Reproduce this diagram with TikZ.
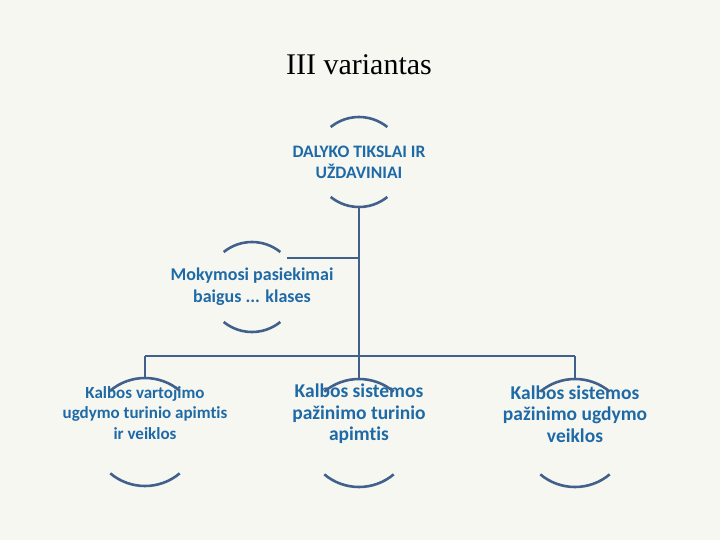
\documentclass[tikz,border=0pt]{standalone}
\usepackage{fontspec}
\setmainfont{Carlito}[Ligatures={NoCommon,NoContextual}]
\newfontfamily\titlefont{Liberation Serif}
\definecolor{bg}{HTML}{F7F7F2}
\definecolor{ln}{HTML}{41618C}
\definecolor{tx}{HTML}{1E6AA6}
\begin{document}
\begin{tikzpicture}[x=1pt,y=-1pt,
  conn/.style={draw=ln,line width=2.6pt},
  arcs/.style={draw=ln,line width=2.6pt},
  lbl/.style={text=tx,align=center}]
\fill[bg] (0,0) rectangle (720,540);
\useasboundingbox (0,0) rectangle (720,540);
\node[font=\titlefont\fontsize{30}{34}\selectfont] (title) at (359,65) {III variantas};
% top
\node[lbl,font=\bfseries\fontsize{17.5}{21}\selectfont] (top) at (359,162) {DALYKO TIKSLAI IR\\UŽDAVINIAI};
\draw[arcs] (359,162) ++(129:45) arc[start angle=129,end angle=51,radius=45];
\draw[arcs] (359,162) ++(-129:45) arc[start angle=-129,end angle=-51,radius=45];
% mid
\node[lbl,font=\bfseries\fontsize{18}{22}\selectfont] (mid) at (252,287) {Mokymosi pasiekimai\\baigus ... klases};
\draw[arcs] (252,287) ++(129:45) arc[start angle=129,end angle=51,radius=45];
\draw[arcs] (252,287) ++(-129:45) arc[start angle=-129,end angle=-51,radius=45];
% bottom
\node[lbl,font=\bfseries\fontsize{17}{20.5}\selectfont] (b1) at (145,413) {Kalbos vartojimo\\ugdymo turinio apimtis\\ir veiklos};
\node[lbl,font=\bfseries\fontsize{19.5}{21.5}\selectfont] (b2) at (359,414) {Kalbos sistemos\\pažinimo turinio\\apimtis};
\node[lbl,font=\bfseries\fontsize{19.5}{21.5}\selectfont] (b3) at (575,414) {Kalbos sistemos\\pažinimo ugdymo\\veiklos};
\foreach \c in {b1,b2,b3}{
  \draw[arcs] (\c.center) ++(0,19) ++(130:54) arc[start angle=130,end angle=50,radius=54];
  \draw[arcs] (\c.center) ++(0,19) ++(-130:54) arc[start angle=-130,end angle=-50,radius=54];
}
\coordinate (tb) at (359,207);
\coordinate (j1) at (359,258);
\coordinate (m1) at (287,258);
\coordinate (bar) at (359,356);
\coordinate (bl) at (145,356);
\coordinate (br) at (575,356);
\draw[conn] (tb) -- (bar) -- (359,379);
\draw[conn] (m1) -- (j1);
\draw[conn] (bl) -- (br);
\draw[conn] (bl) -- (145,379);
\draw[conn] (br) -- (575,379);
\end{tikzpicture}
\end{document}
